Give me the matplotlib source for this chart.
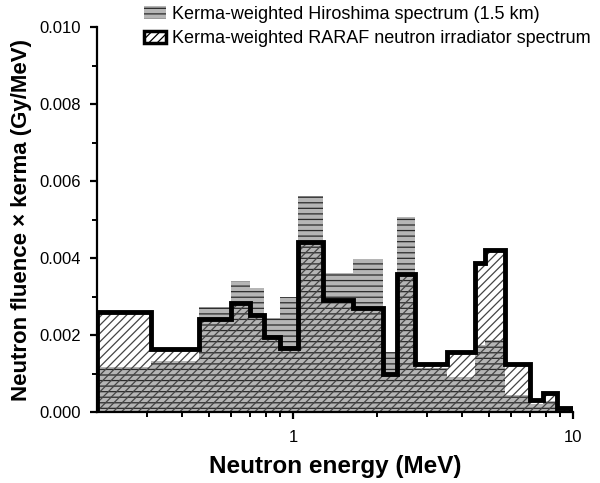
import matplotlib.pyplot as plt
from matplotlib.patches import Patch
from matplotlib.ticker import FixedLocator, NullFormatter, FixedFormatter, MultipleLocator

plt.rcParams['font.family'] = ['Liberation Sans', 'DejaVu Sans']
plt.rcParams['hatch.linewidth'] = 0.9

# Energy group edges (MeV)
energy_edges = [0.2, 0.31, 0.46, 0.60, 0.70, 0.79, 0.90, 1.04, 1.28, 1.64, 2.10,
                2.36, 2.73, 3.56, 4.47, 4.85, 5.72, 7.0, 7.82, 8.77, 9.85]

# Kerma-weighted fluence (Gy/MeV)
hiroshima = [0.00117, 0.00133, 0.00272, 0.00341, 0.00321, 0.00245, 0.00299,
             0.00561, 0.00361, 0.00398, 0.00156, 0.00506, 0.00113, 0.00091,
             0.00174, 0.00186, 0.00044, 0.00020, 0.00028, 0.00010]
raraf = [0.00260, 0.00164, 0.00241, 0.00282, 0.00252, 0.00195, 0.00165,
         0.00442, 0.00291, 0.00270, 0.00100, 0.00358, 0.00125, 0.00155,
         0.00387, 0.00420, 0.00124, 0.00032, 0.00049, 0.00010]

labels = ["Kerma-weighted Hiroshima spectrum (1.5 km)",
          "Kerma-weighted RARAF neutron irradiator spectrum"]

fig = plt.figure(figsize=(6, 4.83), dpi=100)
ax = fig.add_axes([0.162, 0.147, 0.793, 0.797])

# Hiroshima: gray with horizontal lines
ax.stairs(hiroshima, energy_edges, fill=True, facecolor='#b5b5b5',
          edgecolor='#2a2a2a', hatch='---', linewidth=0)
# RARAF: diagonal hatch plus thick black outline
ax.stairs(raraf, energy_edges, fill=True, facecolor='none',
          edgecolor='#444444', hatch='////', linewidth=0)
ax.stairs(raraf, energy_edges, color='black', linewidth=3.5)

ax.set_xscale('log')
ax.set_xlim(0.2, 10)
ax.set_ylim(0, 0.010)

ax.xaxis.set_major_locator(FixedLocator([1, 10]))
ax.xaxis.set_major_formatter(FixedFormatter(['1', '10']))
minor = [0.3, 0.4, 0.5, 0.6, 0.7, 0.8, 0.9, 2, 3, 4, 5, 6, 7, 8, 9]
ax.xaxis.set_minor_locator(FixedLocator(minor))
ax.xaxis.set_minor_formatter(NullFormatter())

ax.yaxis.set_major_locator(MultipleLocator(0.002))
ax.yaxis.set_minor_locator(MultipleLocator(0.001))
ax.yaxis.set_major_formatter(plt.FuncFormatter(lambda v, p: f"{v:.3f}"))

for s in ['top', 'right']:
    ax.spines[s].set_visible(False)
for s in ['left', 'bottom']:
    ax.spines[s].set_linewidth(1.6)

ax.tick_params(which='major', direction='out', length=5, width=1.6, labelsize=12)
ax.tick_params(which='minor', direction='out', length=3.5, width=1.4)
ax.tick_params(axis='y', which='major', pad=7)
ax.tick_params(axis='x', which='major', pad=8)

ax.set_xlabel("Neutron energy (MeV)", fontsize=17.5, fontweight='bold', labelpad=7)
ax.set_ylabel("Neutron fluence \u00d7 kerma (Gy/MeV)", fontsize=16, fontweight='bold', labelpad=5)

handles = [Patch(facecolor='#b5b5b5', edgecolor='#2a2a2a', hatch='---', linewidth=0),
           Patch(facecolor='white', edgecolor='black', hatch='////', linewidth=2.5)]
fig.legend(handles, labels, loc='upper left', bbox_to_anchor=(140 / 600, 0.995),
           frameon=False, fontsize=13, handlelength=1.25, handletextpad=0.35,
           labelspacing=0.4, borderaxespad=0, borderpad=0.2)

fig.savefig("out.png", dpi=100)
